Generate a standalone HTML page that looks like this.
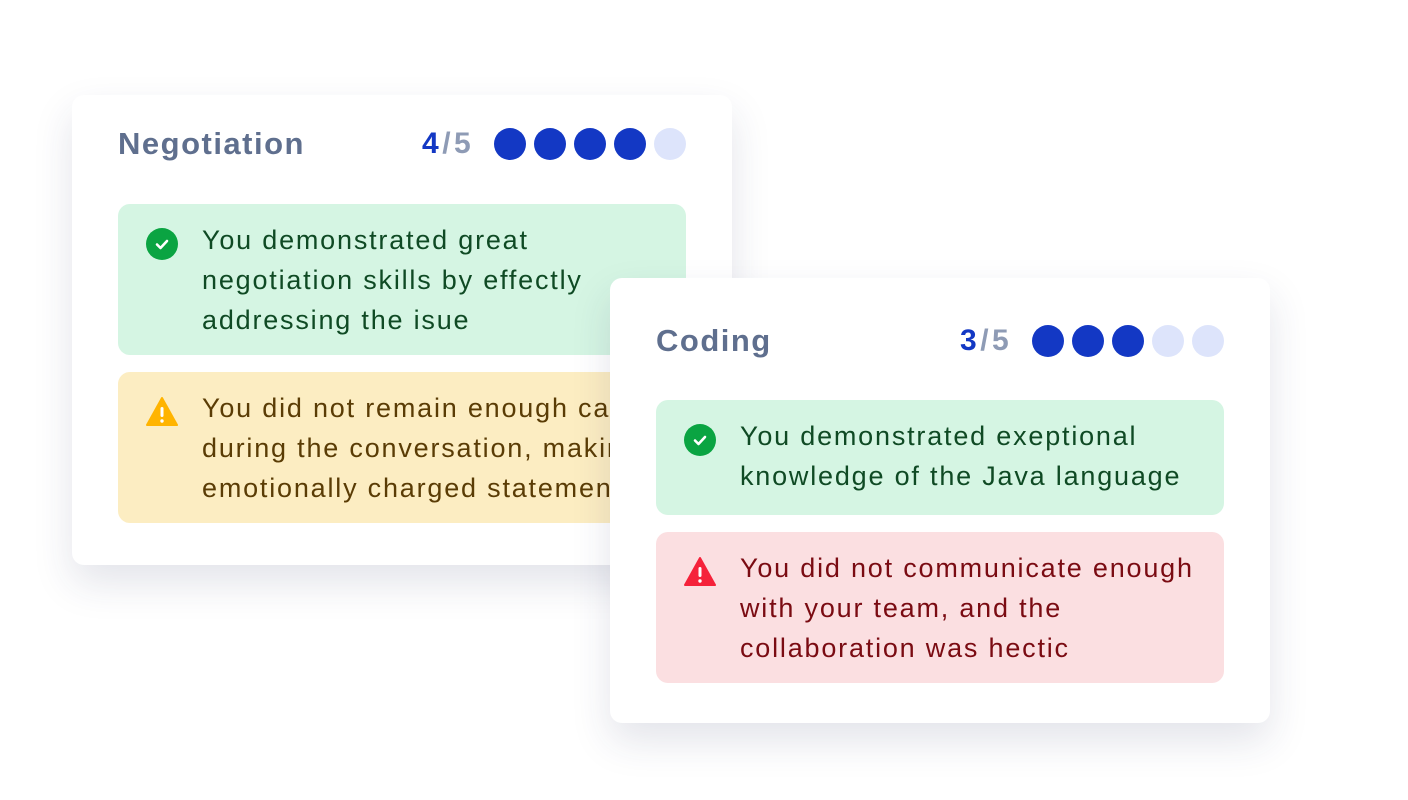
<!DOCTYPE html>
<html><head><meta charset="utf-8"><style>
*{margin:0;padding:0;box-sizing:border-box}
body{width:1408px;height:800px;background:#fff;position:relative;overflow:hidden;font-family:"Liberation Sans",sans-serif}
.card{position:absolute;background:#fff;border-radius:12px;box-shadow:0 18px 40px rgba(40,50,90,0.13)}
.title{position:absolute;left:46px;font-size:31px;font-weight:bold;color:#5f6f8e;letter-spacing:1.5px}
.score{position:absolute;font-size:30px;font-weight:bold;color:#8e9bb5;letter-spacing:3.5px}
.score b{color:#1338c4}
.dot{position:absolute;width:32px;height:32px;border-radius:50%;background:#1338c4}
.dot.off{background:#dde4fb}
.box{position:absolute;left:46px;width:568px;border-radius:12px}
.box p{position:absolute;left:84px;top:16px;font-size:27px;line-height:40px;letter-spacing:1.8px;white-space:nowrap}
.ic{position:absolute;left:28px;top:24px;width:32px;height:32px}
.g{background:#d5f5e3}.g p{color:#0f4a24}
.y{background:#fcedc2}.y p{color:#5a3c05}
.r{background:#fbdfe1}.r p{color:#7a0b12}
</style></head><body>

<div class="card" style="left:72px;top:95px;width:660px;height:470px">
  <div class="title" style="top:31px">Negotiation</div>
  <div class="score" style="left:350px;top:32px"><b>4</b>/5</div>
  <div class="dot" style="left:422px;top:33px"></div>
  <div class="dot" style="left:462px;top:33px"></div>
  <div class="dot" style="left:502px;top:33px"></div>
  <div class="dot" style="left:542px;top:33px"></div>
  <div class="dot off" style="left:582px;top:33px"></div>
  <div class="box g" style="top:109px;height:151px">
    <svg class="ic" viewBox="0 0 32 32"><circle cx="16" cy="16" r="16" fill="#0aa442"/><path d="M11 16.5l3.5 3.5 6.5-7" stroke="#fff" stroke-width="2.6" fill="none" stroke-linecap="round" stroke-linejoin="round"/></svg>
    <p>You demonstrated great<br>negotiation skills by effectly<br>addressing the isue</p>
  </div>
  <div class="box y" style="top:277px;height:151px">
    <svg class="ic" viewBox="0 0 32 32"><path d="M16 2L31 29H1z" fill="#ffb400" stroke="#ffb400" stroke-width="2" stroke-linejoin="round"/><rect x="14.5" y="11" width="3" height="10" rx="1.5" fill="#fff"/><circle cx="16" cy="25" r="1.7" fill="#fff"/></svg>
    <p>You did not remain enough calm<br>during the conversation, making<br>emotionally charged statements</p>
  </div>
</div>

<div class="card" style="left:610px;top:278px;width:660px;height:445px">
  <div class="title" style="top:45px">Coding</div>
  <div class="score" style="left:350px;top:46px"><b>3</b>/5</div>
  <div class="dot" style="left:422px;top:47px"></div>
  <div class="dot" style="left:462px;top:47px"></div>
  <div class="dot" style="left:502px;top:47px"></div>
  <div class="dot off" style="left:542px;top:47px"></div>
  <div class="dot off" style="left:582px;top:47px"></div>
  <div class="box g" style="top:122px;height:115px">
    <svg class="ic" viewBox="0 0 32 32"><circle cx="16" cy="16" r="16" fill="#0aa442"/><path d="M11 16.5l3.5 3.5 6.5-7" stroke="#fff" stroke-width="2.6" fill="none" stroke-linecap="round" stroke-linejoin="round"/></svg>
    <p>You demonstrated exeptional<br>knowledge of the Java language</p>
  </div>
  <div class="box r" style="top:254px;height:151px">
    <svg class="ic" viewBox="0 0 32 32"><path d="M16 2L31 29H1z" fill="#f5223a" stroke="#f5223a" stroke-width="2" stroke-linejoin="round"/><rect x="14.5" y="11" width="3" height="10" rx="1.5" fill="#fff"/><circle cx="16" cy="25" r="1.7" fill="#fff"/></svg>
    <p>You did not communicate enough<br>with your team, and the<br>collaboration was hectic</p>
  </div>
</div>

</body></html>
